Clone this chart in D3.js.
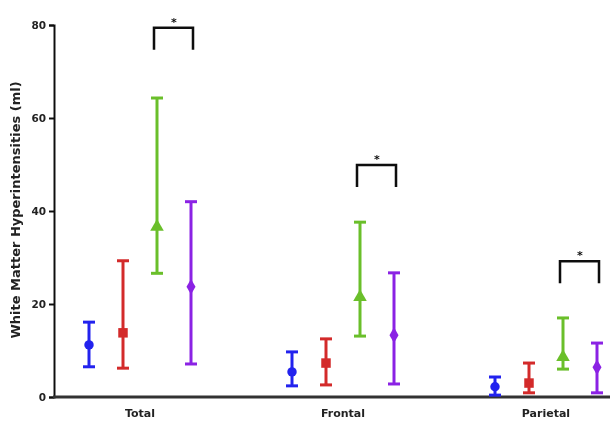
<!DOCTYPE html>
<html>
<head>
<meta charset="utf-8">
<script src="https://cdn.jsdelivr.net/npm/d3@7"></script>
<style>
  body { margin: 0; background: #fff; }
  svg { display: block; }
</style>
</head>
<body>
<div id="chart"></div>
<script>
// Datos
const categories = ["Total", "Frontal", "Parietal"];
const series = ["blue", "red", "green", "purple"];
const yTicks = [0, 20, 40, 60, 80];

const meanBlue = [11.2, 5.4, 2.2];
const meanRed = [13.8, 7.3, 3.0];
const meanGreen = [36.6, 21.5, 8.6];
const meanPurple = [23.7, 13.3, 6.4];

const upperBlue = [16.1, 9.7, 4.3];
const upperRed = [29.3, 12.5, 7.3];
const upperGreen = [64.3, 37.6, 17.0];
const upperPurple = [42.0, 26.7, 11.6];

const lowerBlue = [6.5, 2.4, 0.4];
const lowerRed = [6.2, 2.6, 0.9];
const lowerGreen = [26.6, 13.1, 6.0];
const lowerPurple = [7.1, 2.8, 0.9];

// altura del corchete de significancia (verde vs morado)
const bracketTop = [79.4, 49.9, 29.2];

const WIDTH = 610;
const HEIGHT = 423;
const FONT = "DejaVu Sans, Verdana, sans-serif";
const colors = { blue: "#2424ee", red: "#d32a2a", green: "#6bbf2c", purple: "#8b22e4" };
const shapes = { blue: d3.symbolCircle, red: d3.symbolSquare, green: d3.symbolTriangle, purple: d3.symbolDiamond };
const sizes = { blue: 70, red: 90, green: 80, purple: 70 };

const means = { blue: meanBlue, red: meanRed, green: meanGreen, purple: meanPurple };
const uppers = { blue: upperBlue, red: upperRed, green: upperGreen, purple: upperPurple };
const lowers = { blue: lowerBlue, red: lowerRed, green: lowerGreen, purple: lowerPurple };

const root = d3.select("#chart").append("svg")
    .attr("width", WIDTH)
    .attr("height", HEIGHT);

// leve desenfoque, como la imagen original
root.append("defs").append("filter")
    .attr("id", "soft")
  .append("feGaussianBlur")
    .attr("stdDeviation", 0.45);

const svg = root.append("g").attr("filter", "url(#soft)");

const yScale = d3.scaleLinear().domain([0, 80]).range([397, 25]);
const xScale = d3.scaleBand().domain(categories).range([38.5, 647.5]);
const inner = d3.scaleBand().domain(series).range([-68, 68]);

const px = (cat, s) => xScale(cat) + xScale.bandwidth() / 2 + inner(s) + inner.bandwidth() / 2;

// Eje y
const yAxis = svg.append("g")
    .attr("transform", "translate(54,0)")
    .call(d3.axisLeft(yScale).tickValues(yTicks).tickSizeOuter(0).tickSize(5).tickPadding(3));
yAxis.select(".domain").attr("stroke", "#111").attr("stroke-width", 2);
yAxis.selectAll(".tick line").attr("stroke", "#111").attr("stroke-width", 2);
yAxis.selectAll(".tick text")
    .style("font-family", FONT)
    .style("font-weight", "bold")
    .style("font-size", "10.5px")
    .attr("fill", "#222");

// Eje x
svg.append("line")
    .attr("x1", 53).attr("x2", WIDTH)
    .attr("y1", yScale(0)).attr("y2", yScale(0))
    .attr("stroke", "#333")
    .attr("stroke-width", 3);

svg.selectAll(".cat-label")
    .data(categories)
    .enter().append("text")
    .attr("class", "cat-label")
    .attr("x", d => xScale(d) + xScale.bandwidth() / 2)
    .attr("y", 417)
    .attr("text-anchor", "middle")
    .style("font-family", FONT)
    .style("font-weight", "bold")
    .style("font-size", "11px")
    .attr("fill", "#222")
    .text(d => d);

// Título del eje y
svg.append("text")
    .attr("transform", "translate(19.5,210) rotate(-90)")
    .attr("text-anchor", "middle")
    .style("font-family", FONT)
    .style("font-weight", "bold")
    .style("font-size", "13px")
    .attr("fill", "#222")
    .text("White Matter Hyperintensities (ml)");

// Barras de error y marcadores
const points = [];
series.forEach(s => {
    categories.forEach((c, i) => {
        points.push({ s, c, mean: means[s][i], lo: lowers[s][i], hi: uppers[s][i] });
    });
});

const g = svg.selectAll(".pt")
    .data(points)
    .enter().append("g")
    .attr("class", "pt")
    .attr("transform", d => `translate(${px(d.c, d.s)},0)`);

g.append("line")
    .attr("y1", d => yScale(d.lo)).attr("y2", d => yScale(d.hi))
    .attr("stroke", d => colors[d.s]).attr("stroke-width", 3);
g.append("line")
    .attr("x1", -6).attr("x2", 6)
    .attr("y1", d => yScale(d.hi)).attr("y2", d => yScale(d.hi))
    .attr("stroke", d => colors[d.s]).attr("stroke-width", 3);
g.append("line")
    .attr("x1", -6).attr("x2", 6)
    .attr("y1", d => yScale(d.lo)).attr("y2", d => yScale(d.lo))
    .attr("stroke", d => colors[d.s]).attr("stroke-width", 3);
g.append("path")
    .attr("transform", d => `translate(0,${yScale(d.mean)})`)
    .attr("d", d => d3.symbol().type(shapes[d.s]).size(sizes[d.s])())
    .attr("fill", d => colors[d.s]);

// Corchetes de significancia
const br = svg.selectAll(".bracket")
    .data(categories.map((c, i) => ({ c, top: bracketTop[i] })))
    .enter().append("g")
    .attr("class", "bracket");

br.append("path")
    .attr("d", d => {
        const x1 = px(d.c, "green") - 3, x2 = px(d.c, "purple") + 2;
        const y = yScale(d.top);
        return `M${x1},${y + 22}V${y}H${x2}V${y + 22}`;
    })
    .attr("fill", "none")
    .attr("stroke", "#111")
    .attr("stroke-width", 2.5);

br.append("text")
    .attr("x", d => (px(d.c, "green") + px(d.c, "purple")) / 2)
    .attr("y", d => yScale(d.top) - 2)
    .attr("text-anchor", "middle")
    .style("font-family", FONT)
    .style("font-weight", "bold")
    .style("font-size", "11px")
    .attr("fill", "#111")
    .text("*");
</script>
</body>
</html>
